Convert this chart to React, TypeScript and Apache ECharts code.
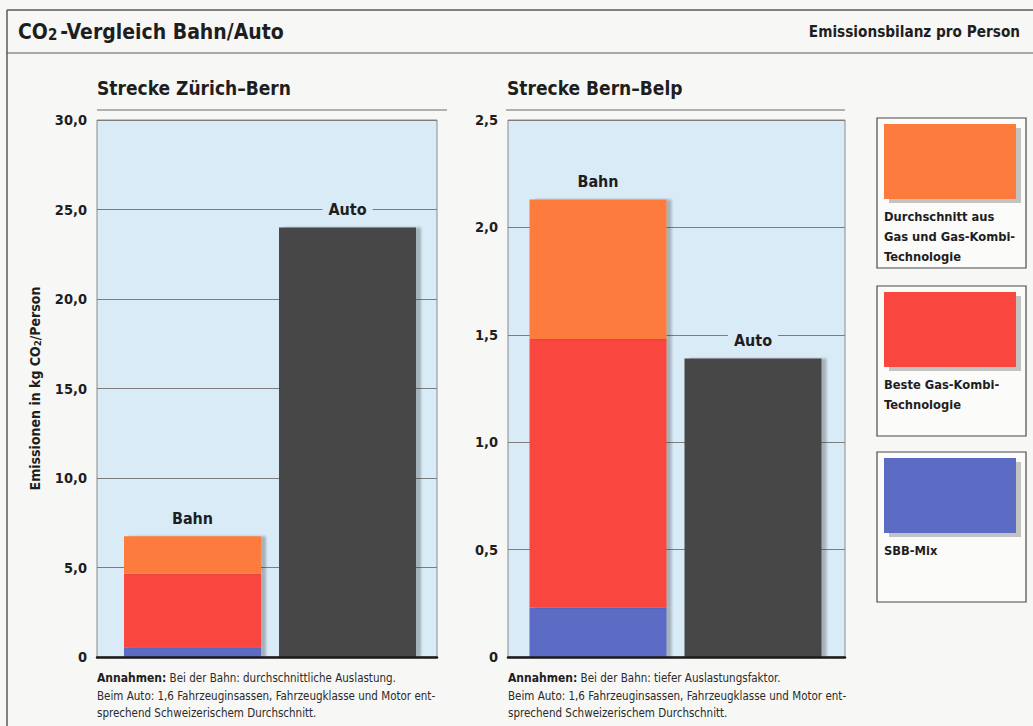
import React, { useEffect, useRef } from "react";
import * as echarts from "echarts";

// ---------- data ----------
const categories = ["Bahn", "Auto"];
const seriesNames = ["SBB-Mix", "Beste Gas-Kombi-Technologie", "Durchschnitt aus Gas und Gas-Kombi-Technologie", "Auto"];

// Strecke Zürich–Bern (kg CO2 / Person)
const zbSbbMix: (number | string)[] = [0.55, "-"];
const zbBesteGas: (number | string)[] = [4.1, "-"];
const zbDurchschnitt: (number | string)[] = [2.1, "-"];
const zbAuto: (number | string)[] = ["-", 24.0];

// Strecke Bern–Belp (kg CO2 / Person)
const bbSbbMix: (number | string)[] = [0.23, "-"];
const bbBesteGas: (number | string)[] = [1.25, "-"];
const bbDurchschnitt: (number | string)[] = [0.65, "-"];
const bbAuto: (number | string)[] = ["-", 1.39];

const zbAxis = { min: 0, max: 30, interval: 5 };
const bbAxis = { min: 0, max: 2.5, interval: 0.5 };

const legendLines = [
  ["Durchschnitt aus", "Gas und Gas-Kombi-", "Technologie"],
  ["Beste Gas-Kombi-", "Technologie"],
  ["SBB-Mix"],
];

const footLeft = [
  "Bei der Bahn: durchschnittliche Auslastung.",
  "Beim Auto: 1,6 Fahrzeuginsassen, Fahrzeugklasse und Motor ent-",
  "sprechend Schweizerischem Durchschnitt.",
];
const footRight = [
  "Bei der Bahn: tiefer Auslastungsfaktor.",
  "Beim Auto: 1,6 Fahrzeuginsassen, Fahrzeugklasse und Motor ent-",
  "sprechend Schweizerischem Durchschnitt.",
];

// ---------- styles ----------
const FONT = "'Liberation Sans Narrow', 'DejaVu Sans Condensed', 'Roboto Condensed', Roboto, 'Liberation Sans', sans-serif";
const C_SBB = "#5b6cc4";
const C_BESTE = "#f9463f";
const C_DURCH = "#fd7c3e";
const C_AUTO = "#474747";
const seriesColors = [C_SBB, C_BESTE, C_DURCH, C_AUTO];
const legendColors = [C_DURCH, C_BESTE, C_SBB];
const PLOT_BG = "#d8ebf7";
const PAGE_BG = "#f7f7f5";
const TXT = "#1e1e1e";
const FRAME = "#5a5a5a";

const fmt = (v: number) => (v === 0 ? "0" : v.toFixed(1).replace(".", ","));

function buildSeries(prefix: string, xi: number, data: (number | string)[][]) {
  return data.map((d, i) => {
    const isAuto = i === 3;
    const isTop = i === 2;
    const s: any = {
      name: seriesNames[i],
      id: prefix + i,
      type: "bar",
      stack: prefix,
      xAxisIndex: xi,
      yAxisIndex: xi,
      barWidth: 137,
      data: d,
      itemStyle: {
        color: seriesColors[i],
        shadowColor: "rgba(40,40,40,0.3)",
        shadowOffsetX: 5,
        shadowOffsetY: 0,
        shadowBlur: 2,
      },
    };
    if (isAuto || isTop) {
      s.label = {
        show: true,
        position: "top",
        distance: 9,
        formatter: "{b}",
        fontFamily: FONT,
        fontWeight: "bold",
        fontSize: 16,
        color: TXT,
        backgroundColor: PLOT_BG,
        padding: [1, 6],
      };
    }
    return s;
  });
}

function bgYAxis(gi: number, ax: { min: number; max: number; interval: number }, withName: boolean) {
  const y: any = {
    gridIndex: gi,
    type: "value",
    min: ax.min,
    max: ax.max,
    interval: ax.interval,
    axisLine: { show: false },
    axisTick: { show: false },
    splitLine: { show: true, lineStyle: { color: "#7d7d7d", width: 1 } },
    axisLabel: {
      formatter: fmt,
      fontFamily: FONT,
      fontWeight: "bold",
      fontSize: 14.5,
      color: TXT,
      margin: 10,
    },
  };
  if (withName) {
    y.name = "Emissionen in kg CO{s|2}/Person";
    y.nameLocation = "middle";
    y.nameRotate = 90;
    y.nameGap = 55;
    y.nameTextStyle = {
      fontFamily: FONT,
      fontWeight: "bold",
      fontSize: 14,
      color: TXT,
      rich: {
        s: { fontFamily: FONT, fontWeight: "bold", fontSize: 9.5, color: TXT, verticalAlign: "bottom", padding: [4, 0, 0, 0] },
      },
    };
  }
  return y;
}

function textEl(x: number, y: number, text: string, size: number, bold: boolean, align = "left") {
  return {
    type: "text",
    x,
    y,
    silent: true,
    style: {
      text,
      fill: TXT,
      font: `${bold ? "bold " : ""}${size}px ${FONT}`,
      textAlign: align,
      textVerticalAlign: "middle",
    },
  };
}

function footEl(x: number, y0: number, lines: string[]) {
  return lines.map((l, i) => ({
    type: "text",
    x,
    y: y0 + i * 17.5,
    silent: true,
    style: {
      text: i === 0 ? `{b|Annahmen:} {n|${l}}` : `{n|${l}}`,
      textVerticalAlign: "middle",
      rich: {
        b: { fontFamily: FONT, fontWeight: "bold", fontSize: 12, fill: TXT, color: TXT },
        n: { fontFamily: FONT, fontSize: 11.5, fill: "#2a2a2a", color: "#2a2a2a" },
      },
    },
  }));
}

function legendEls() {
  const tops = [118, 286, 452];
  const els: any[] = [];
  tops.forEach((t, i) => {
    els.push({
      type: "rect",
      shape: { x: 877, y: t, width: 149, height: 150 },
      style: { fill: "#fbfbfa", stroke: "#4a4a4a", lineWidth: 1.2 },
      silent: true,
    });
    els.push({
      type: "rect",
      shape: { x: 884, y: t + 6, width: 132, height: 75 },
      style: {
        fill: legendColors[i],
        shadowColor: "rgba(60,60,60,0.3)",
        shadowOffsetX: 5,
        shadowOffsetY: 4,
        shadowBlur: 1,
      },
      silent: true,
    });
    legendLines[i].forEach((l, j) => {
      els.push(textEl(884, t + 98 + j * 20, l, 12.8, true));
    });
  });
  return els;
}

const option: any = {
  animation: false,
  backgroundColor: PAGE_BG,
  grid: [
    { left: 97, top: 120, width: 340, height: 537, show: true, backgroundColor: PLOT_BG, borderColor: "#8a8a8a", borderWidth: 1 },
    { left: 115, top: 120, width: 310, height: 537 },
    { left: 508, top: 120, width: 337, height: 537, show: true, backgroundColor: PLOT_BG, borderColor: "#8a8a8a", borderWidth: 1 },
    { left: 520.5, top: 120, width: 310, height: 537 },
  ],
  xAxis: [0, 1, 2, 3].map((i) => ({
    gridIndex: i,
    type: "category",
    data: categories,
    show: i % 2 === 0,
    z: 10,
    axisLabel: { show: false },
    axisTick: { show: false },
    axisLine: { show: true, lineStyle: { color: "#1a1a1a", width: 2.5 } },
  })),
  yAxis: [
    bgYAxis(0, zbAxis, true),
    { gridIndex: 1, type: "value", min: zbAxis.min, max: zbAxis.max, show: false },
    bgYAxis(2, bbAxis, false),
    { gridIndex: 3, type: "value", min: bbAxis.min, max: bbAxis.max, show: false },
  ],
  series: [
    ...buildSeries("zb", 1, [zbSbbMix, zbBesteGas, zbDurchschnitt, zbAuto]),
    ...buildSeries("bb", 3, [bbSbbMix, bbBesteGas, bbDurchschnitt, bbAuto]),
  ],
  graphic: [
    // frame
    { type: "line", shape: { x1: 7, y1: 10, x2: 1033, y2: 10 }, style: { stroke: FRAME, lineWidth: 1.5 }, silent: true },
    { type: "line", shape: { x1: 7, y1: 10, x2: 7, y2: 726 }, style: { stroke: FRAME, lineWidth: 1.5 }, silent: true },
    { type: "line", shape: { x1: 7, y1: 53, x2: 1033, y2: 53 }, style: { stroke: FRAME, lineWidth: 1.2 }, silent: true },
    // title
    {
      type: "text",
      x: 18,
      y: 32,
      silent: true,
      style: {
        text: "{m|CO}{s|2}{m|-Vergleich Bahn/Auto}",
        textVerticalAlign: "middle",
        rich: {
          m: { fontFamily: FONT, fontWeight: "bold", fontSize: 21, fill: TXT, color: TXT, lineHeight: 26 },
          s: { fontFamily: FONT, fontWeight: "bold", fontSize: 15, fill: TXT, color: TXT, lineHeight: 26, padding: [6, 3, 0, 0] },
        },
      },
    },
    textEl(1020, 32, "Emissionsbilanz pro Person", 15.2, true, "right"),
    // subtitles
    textEl(97, 88, "Strecke Zürich–Bern", 19, true),
    { type: "line", shape: { x1: 97, y1: 110, x2: 447, y2: 110 }, style: { stroke: "#6a6a6a", lineWidth: 1.2 }, silent: true },
    textEl(507, 88, "Strecke Bern–Belp", 19, true),
    { type: "line", shape: { x1: 506, y1: 110, x2: 845, y2: 110 }, style: { stroke: "#6a6a6a", lineWidth: 1.2 }, silent: true },
    // footnotes
    ...footEl(97, 678, footLeft),
    ...footEl(508, 678, footRight),
    // legend
    ...legendEls(),
  ],
};

export default function App() {
  const ref = useRef<HTMLDivElement>(null);
  useEffect(() => {
    const chart = echarts.init(ref.current as HTMLDivElement, null, { renderer: "svg" });
    chart.setOption(option);
    return () => chart.dispose();
  }, []);
  return <div ref={ref} style={{ position: "absolute", left: 0, top: 0, width: 1033, height: 726 }} />;
}
